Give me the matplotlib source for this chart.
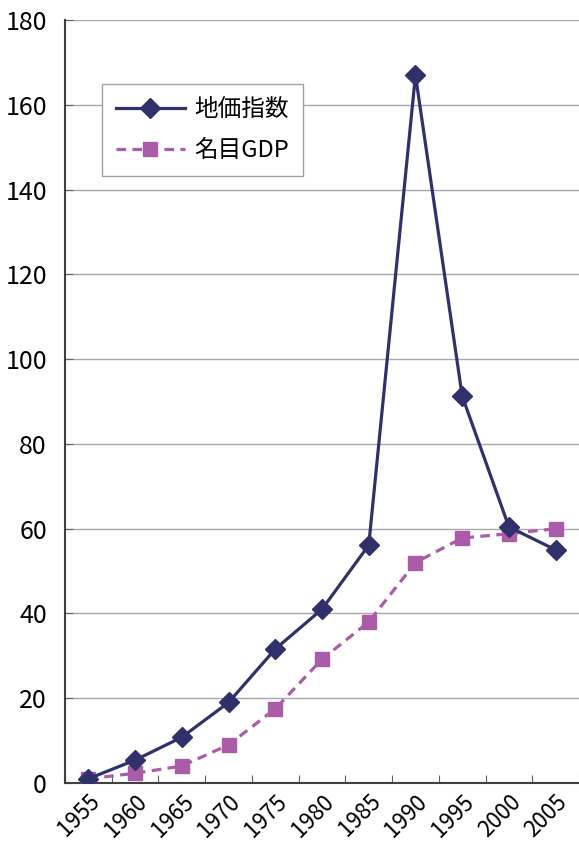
import matplotlib.pyplot as plt
import numpy as np

plt.rcParams['font.family'] = ['Liberation Sans Narrow', 'Noto Sans CJK JP', 'DejaVu Sans']

years = ["1955", "1960", "1965", "1970", "1975", "1980", "1985", "1990", "1995", "2000", "2005"]
land_index = [1, 5.4, 10.8, 19, 31.6, 41, 56.1, 167, 91.3, 60.4, 55]
nominal_gdp = [1, 2.3, 4, 9, 17.5, 29.2, 38, 52, 57.8, 58.8, 60]

NAVY = "#30306a"
PINK = "#ab5ca8"

fig = plt.figure(figsize=(5.79, 8.42), dpi=100)
ax = fig.add_axes([65 / 579, 1 - 783 / 842, 1 - 65 / 579, (783 - 20) / 842])

x = np.arange(len(years)) + 0.5
ax.plot(x, land_index, color=NAVY, lw=2.3, marker="D", ms=10.5,
        mfc=NAVY, mec=NAVY, label="地価指数", zorder=4)
ax.plot(x, nominal_gdp, color=PINK, lw=2.3, ls=(0, (3, 2)), marker="s", ms=10,
        mfc=PINK, mec=PINK, label="名目GDP", zorder=3)

ax.set_xlim(0, len(years))
ax.set_ylim(0, 180)
ax.set_yticks(range(0, 181, 20))
ax.set_xticks(np.arange(len(years) + 1), minor=False)
ax.set_xticklabels([])
ax.set_xticks(x, minor=True)
ax.set_xticklabels(years, minor=True, rotation=45, ha="right", va="top",
                   rotation_mode="anchor", fontsize=16)
ax.tick_params(axis="x", which="minor", length=0, pad=5)
ax.tick_params(axis="x", which="major", direction="in", length=6, color="#606060")
ax.tick_params(axis="y", direction="in", length=6, color="#606060", labelsize=18, pad=13)

ax.grid(axis="y", color="#a8a8a8", lw=1)
ax.set_axisbelow(True)
for s in ["top", "right"]:
    ax.spines[s].set_visible(False)
ax.spines["left"].set_color("#404040")
ax.spines["bottom"].set_color("#404040")
ax.spines["left"].set_linewidth(1.5)
ax.spines["bottom"].set_linewidth(1.5)

leg = ax.legend(loc="upper left", bbox_to_anchor=(102 / 579, 1 - 84 / 842),
                bbox_transform=fig.transFigure, borderaxespad=0, fontsize=17,
                handlelength=2.9, fancybox=False, framealpha=1, edgecolor="#a0a0a0",
                borderpad=0.6, labelspacing=0.75, handletextpad=0.4)
leg.get_frame().set_linewidth(1)

fig.savefig("out.png", dpi=100)
